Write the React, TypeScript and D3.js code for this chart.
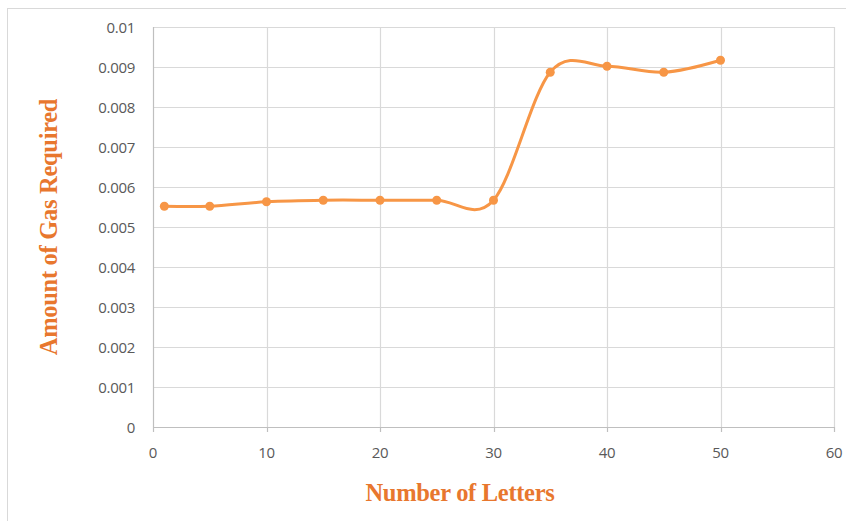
import { useEffect, useRef } from "react";
import * as d3 from "d3";

// letters on x, gas on y
const letters = [1, 5, 10, 15, 20, 25, 30, 35, 40, 45, 50];
const gas = [0.00552, 0.00552, 0.00563, 0.00567, 0.00567, 0.00567, 0.00567, 0.00887, 0.00902, 0.00887, 0.00917];
const xTicks = [0, 10, 20, 30, 40, 50, 60];
const yTicks = [0, 0.001, 0.002, 0.003, 0.004, 0.005, 0.006, 0.007, 0.008, 0.009, 0.01];

const App = () => {
  const svgRef = useRef<SVGSVGElement>(null);

  useEffect(() => {
    if (!svgRef.current) return;
    const width = 846;
    const height = 521;
    const svg = d3.select(svgRef.current);
    svg.selectAll("*").remove();

    svg.attr("width", width).attr("height", height).style("background", "#fff");

    // chart frame (runs off the right/bottom edge)
    svg.append("rect")
      .attr("x", 7.5).attr("y", 8.5)
      .attr("width", 860).attr("height", 540)
      .attr("fill", "none").attr("stroke", "#d9d9d9");

    const x = d3.scaleLinear().domain([0, 60]).range([153, 834]);
    const y = d3.scaleLinear().domain([0, 0.01]).range([427, 27]);

    const grid = svg.append("g");
    // horizontal grid
    grid.selectAll(".hg")
      .data(yTicks)
      .enter()
      .append("line")
      .attr("x1", x(0)).attr("x2", x(60))
      .attr("y1", (d) => Math.round(y(d)) + 0.5)
      .attr("y2", (d) => Math.round(y(d)) + 0.5)
      .attr("stroke", (d) => (d === 0 ? "#bfbfbf" : "#d9d9d9"))
      .attr("stroke-width", 1.2);
    // vertical grid
    grid.selectAll(".vg")
      .data(xTicks)
      .enter()
      .append("line")
      .attr("x1", (d) => Math.round(x(d)) + 0.5)
      .attr("x2", (d) => Math.round(x(d)) + 0.5)
      .attr("y1", y(0.01))
      .attr("y2", y(0))
      .attr("stroke", (d) => (d === 0 ? "#bfbfbf" : "#d9d9d9"))
      .attr("stroke-width", 1.2);
    // x tick marks
    grid.selectAll(".xt")
      .data(xTicks)
      .enter()
      .append("line")
      .attr("x1", (d) => Math.round(x(d)) + 0.5)
      .attr("x2", (d) => Math.round(x(d)) + 0.5)
      .attr("y1", y(0))
      .attr("y2", y(0) + 5)
      .attr("stroke", "#bfbfbf")
      .attr("stroke-width", 1.2);

    const tickFont = "'Open Sans', sans-serif";
    svg.append("g")
      .selectAll("text")
      .data(yTicks)
      .enter()
      .append("text")
      .attr("x", 135)
      .attr("y", (d) => y(d))
      .attr("text-anchor", "end")
      .attr("dominant-baseline", "central")
      .attr("font-family", tickFont)
      .attr("font-size", 15)
      .attr("letter-spacing", -0.3)
      .attr("fill", "#595959")
      .text((d) => (d === 0 ? "0" : d3.format(".3~f")(d)));

    svg.append("g")
      .selectAll("text")
      .data(xTicks)
      .enter()
      .append("text")
      .attr("x", (d) => x(d))
      .attr("y", 452)
      .attr("text-anchor", "middle")
      .attr("dominant-baseline", "central")
      .attr("font-family", tickFont)
      .attr("font-size", 15)
      .attr("letter-spacing", -0.3)
      .attr("fill", "#595959")
      .text((d) => String(d));

    // smoothed series line
    const pts = letters.map((l, i) => [l, gas[i]] as [number, number]);
    const line = d3.line<[number, number]>()
      .x((d) => x(d[0]))
      .y((d) => y(d[1]))
      .curve(d3.curveCardinal.tension(0));

    svg.append("path")
      .attr("d", line(pts))
      .attr("fill", "none")
      .attr("stroke", "#f79646")
      .attr("stroke-width", 3)
      .attr("stroke-linecap", "round");

    svg.append("g")
      .selectAll("circle")
      .data(pts)
      .enter()
      .append("circle")
      .attr("cx", (d) => x(d[0]))
      .attr("cy", (d) => y(d[1]))
      .attr("r", 4.5)
      .attr("fill", "#f79646");

    // axis titles
    const titleFont = "'Liberation Serif', 'Times New Roman', serif";
    svg.append("text")
      .attr("x", 460)
      .attr("y", 492)
      .attr("text-anchor", "middle")
      .attr("dominant-baseline", "central")
      .attr("font-family", titleFont)
      .attr("font-weight", 700)
      .attr("font-size", 24.5)
      .attr("letter-spacing", -0.3)
      .attr("fill", "#e8772e")
      .text("Number of Letters");

    svg.append("text")
      .attr("transform", "translate(48,227) rotate(-90)")
      .attr("text-anchor", "middle")
      .attr("dominant-baseline", "central")
      .attr("font-family", titleFont)
      .attr("font-weight", 700)
      .attr("font-size", 24.5)
      .attr("letter-spacing", -0.3)
      .attr("fill", "#e8772e")
      .text("Amount of Gas Required");
  }, []);

  return (
    <div style={{ position: "absolute", left: 0, top: 0 }}>
      <svg ref={svgRef} style={{ display: "block" }} />
    </div>
  );
};

export default App;
